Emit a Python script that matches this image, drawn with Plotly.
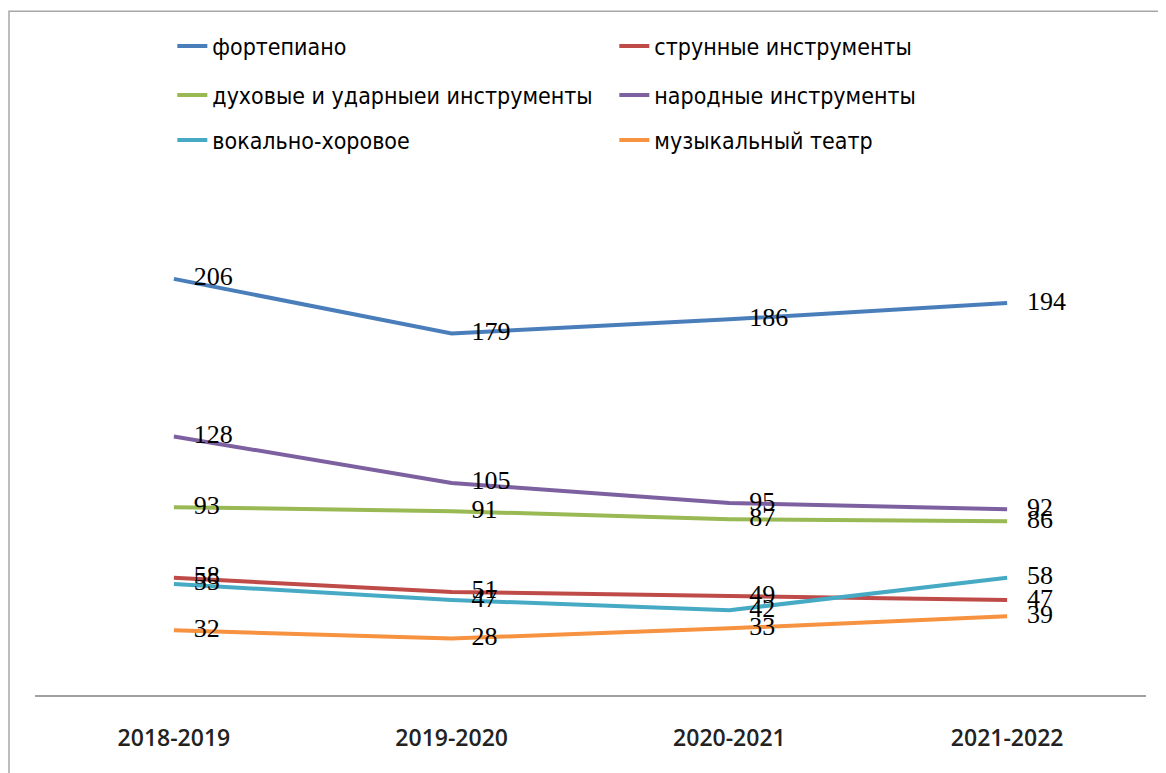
import plotly.graph_objects as go

categories = ["2018-2019", "2019-2020", "2020-2021", "2021-2022"]

series_names = [
    "фортепиано",
    "струнные инструменты",
    "духовые и ударныеи инструменты",
    "народные инструменты",
    "вокально-хоровое",
    "музыкальный театр",
]
fortepiano = [206, 179, 186, 194]
strunnye = [58, 51, 49, 47]
duhovye = [93, 91, 87, 86]
narodnye = [128, 105, 95, 92]
vokalnye = [55, 47, 42, 58]
teatr = [32, 28, 33, 39]

series_values = [fortepiano, strunnye, duhovye, narodnye, vokalnye, teatr]
colors = ["#4A7EBB", "#BE4B48", "#98B954", "#7D60A0", "#46AAC5", "#F69240"]
legend_ids = ["legend", "legend", "legend2", "legend2", "legend3", "legend3"]

fig = go.Figure()
for name, vals, col, lg in zip(series_names, series_values, colors, legend_ids):
    fig.add_trace(go.Scatter(
        x=categories, y=vals, name=name, mode="lines+markers+text",
        line=dict(color=col, width=4),
        marker=dict(size=30, color="rgba(0,0,0,0)"),
        text=[str(v) for v in vals], textposition="middle right",
        textfont=dict(family="Liberation Serif", size=26, color="black"),
        legend=lg, cliponaxis=False,
    ))

legend_common = dict(
    orientation="h", xanchor="left", yanchor="middle", x=0.1236,
    entrywidth=397, entrywidthmode="pixels",
    font=dict(family="Liberation Sans Narrow, DejaVu Sans Condensed, sans-serif", size=23, color="black"),
    bgcolor="rgba(0,0,0,0)", itemwidth=30,
)

fig.update_layout(
    width=1158, height=765,
    margin=dict(l=27, r=20, t=182, b=78),
    paper_bgcolor="white", plot_bgcolor="white",
    showlegend=True,
    legend=dict(legend_common, y=1.285),
    legend2=dict(legend_common, y=1.188),
    legend3=dict(legend_common, y=1.099),
    xaxis=dict(
        range=[-0.5, 3.5], showgrid=False, showline=True, linecolor="#A0A0A0",
        linewidth=1.5, ticks="", ticklabelstandoff=22,
        tickfont=dict(family="Open Sans", size=23, color="#222222", weight=600),
        zeroline=False,
    ),
    yaxis=dict(range=[0, 250], visible=False),
    shapes=[dict(
        type="rect", xref="paper", yref="paper",
        x0=-0.0234, x1=1.2, y0=-0.5, y1=1.354,
        line=dict(color="#A8A8A8", width=1.5), fillcolor="rgba(0,0,0,0)", layer="below",
    )],
)

fig.write_html("out.html")
